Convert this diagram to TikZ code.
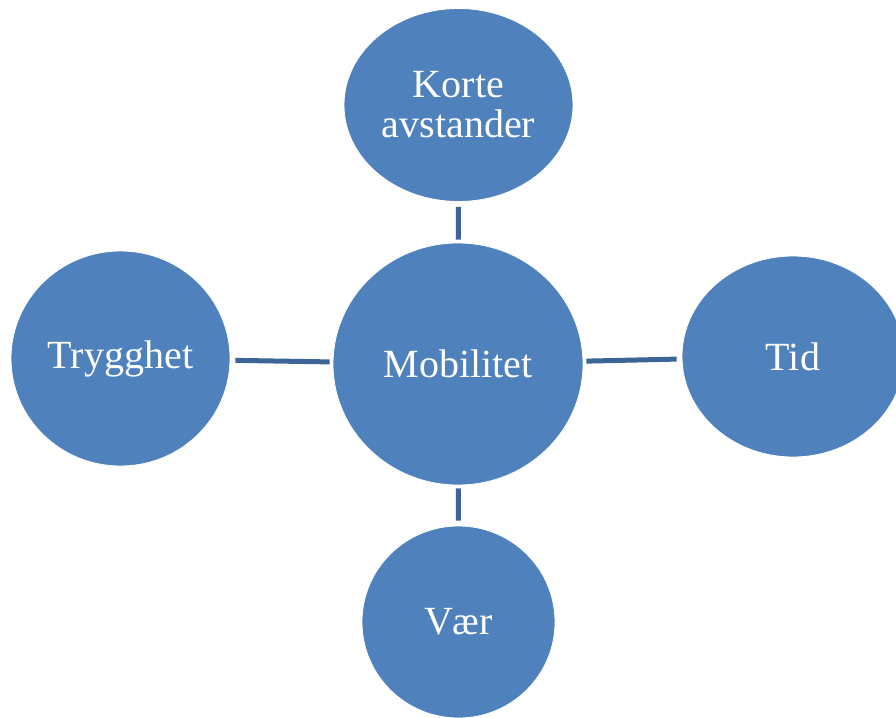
\documentclass[tikz,border=0pt]{standalone}
\usepackage{fontspec}
\setmainfont{Liberation Serif}
\usetikzlibrary{shapes.geometric}
\definecolor{bubblefill}{HTML}{4F81BD}
\definecolor{linkcol}{HTML}{3C6496}
\begin{document}
\begin{tikzpicture}[x=1pt,y=-1pt,
  bubble/.style={ellipse, fill=bubblefill, draw=white, line width=0.8pt,
    inner sep=0pt, text=white, align=center,
    font=\fontsize{40}{40}\selectfont},
  link/.style={draw=linkcol, line width=5pt, shorten <=3pt, shorten >=5pt}]
  \useasboundingbox (0,0) rectangle (896,717);
  \clip (0,0) rectangle (896,717);
  % centre concept and the four surrounding factors
  \node[bubble, minimum width=250pt, minimum height=242pt] (mob) at (458,364) {Mobilitet};
  \node[bubble, minimum width=229pt, minimum height=193pt] (korte) at (458.5,105) {Korte\\avstander};
  \node[bubble, minimum width=219pt, minimum height=215pt] (trygg) at (120.5,358.5) {Trygghet};
  \node[bubble, minimum width=222pt, minimum height=201pt] (tid) at (793,356.5) {Tid};
  \node[bubble, minimum width=193pt, minimum height=192pt] (vaer) at (458.5,622) {Vær};
  % links from the centre outwards
  \path[link] (mob) -- (korte);
  \path[link] (mob) -- (trygg);
  \path[link] (mob) -- (tid);
  \path[link] (mob) -- (vaer);
\end{tikzpicture}
\end{document}
